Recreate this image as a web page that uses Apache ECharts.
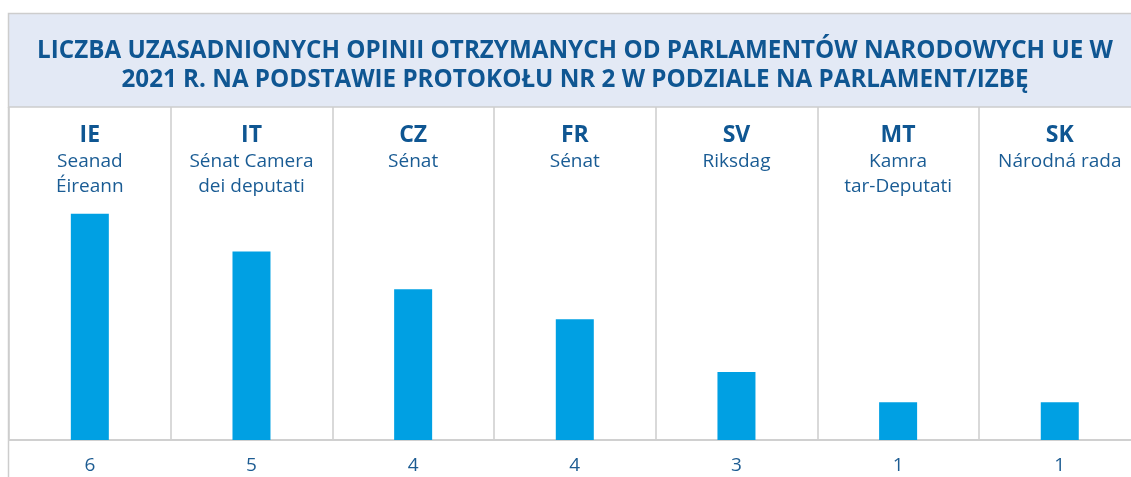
<!DOCTYPE html>
<html><head><meta charset="utf-8">
<script src="https://cdn.jsdelivr.net/npm/echarts@6/dist/echarts.min.js"></script>
<style>html,body{margin:0;padding:0;background:#fff;overflow:hidden;width:1131px;height:477px}#c{width:1145px;height:477px}</style>
</head><body><div id="c"></div>
<script>
const titleLines = ['LICZBA UZASADNIONYCH OPINII OTRZYMANYCH OD PARLAMENTÓW NARODOWYCH UE W', '2021 R. NA PODSTAWIE PROTOKOŁU NR 2 W PODZIALE NA PARLAMENT/IZBĘ'];
const codes = ['IE', 'IT', 'CZ', 'FR', 'SV', 'MT', 'SK'];
const chambers = [['Seanad', 'Éireann'], ['Sénat Camera', 'dei deputati'], ['Sénat'], ['Sénat'], ['Riksdag'], ['Kamra', 'tar-Deputati'], ['Národná rada']];
const countLabels = ['6', '5', '4', '4', '3', '1', '1'];
const barHeights = [6, 5, 4, 3.2, 1.8, 1, 1];

const FONT = '"Open Sans", "Noto Sans", sans-serif';
const DARK = '#0f5692';
const chart = echarts.init(document.getElementById('c'), null, {renderer: 'canvas'});
chart.setOption({
  animation: false,
  backgroundColor: '#ffffff',
  graphic: [
    {type: 'rect', shape: {x: 8.5, y: 13.5, width: 1140, height: 93.5}, style: {fill: '#e3e9f5', stroke: '#cdcdcd', lineWidth: 1.5}, z: 0},
    {type: 'line', shape: {x1: 8.5, y1: 107, x2: 8.5, y2: 477}, style: {stroke: '#cdcdcd', lineWidth: 1.5}, z: 0},
    {type: 'text', x: 575, y: 36.5, z: 5, style: {text: titleLines.join('\n'), font: 'bold 24.2px ' + FONT, fill: DARK, textAlign: 'center', textVerticalAlign: 'top', align: 'center', verticalAlign: 'top', lineHeight: 29}}
  ],
  grid: {left: 9, top: 107, width: 1131.6, height: 333, containLabel: false},
  xAxis: [
    {
      type: 'category', data: codes, position: 'bottom', boundaryGap: true,
      axisLine: {show: true, lineStyle: {color: '#d0d0d0', width: 2}},
      axisTick: {show: false},
      splitLine: {show: true, interval: 0, lineStyle: {color: '#cdcdcd', width: 1.5}},
      axisLabel: {interval: 0, margin: 16, fontFamily: FONT, fontSize: 19, color: '#1d5c92',
        formatter: (v, i) => countLabels[i]}
    },
    {
      type: 'category', data: codes, position: 'top', boundaryGap: true,
      axisLine: {show: false}, axisTick: {show: false}, splitLine: {show: false},
      axisLabel: {interval: 0, inside: true, margin: 14, verticalAlign: 'top',
        formatter: (v, i) => ['{c|' + v + '}'].concat(chambers[i].map(s => '{n|' + s + '}')).join('\n'),
        rich: {
          c: {fontFamily: FONT, fontWeight: 'bold', fontSize: 23, color: DARK, lineHeight: 28, align: 'center'},
          n: {fontFamily: FONT, fontSize: 19, color: '#1a5c94', lineHeight: 25, align: 'center'}
        }}
    }
  ],
  yAxis: {type: 'value', min: 0, max: 8.83, show: false, splitLine: {show: false}},
  series: [{
    type: 'bar', data: barHeights, barWidth: 38, xAxisIndex: 0,
    itemStyle: {color: '#00a0e3'}
  }]
});
</script></body></html>
